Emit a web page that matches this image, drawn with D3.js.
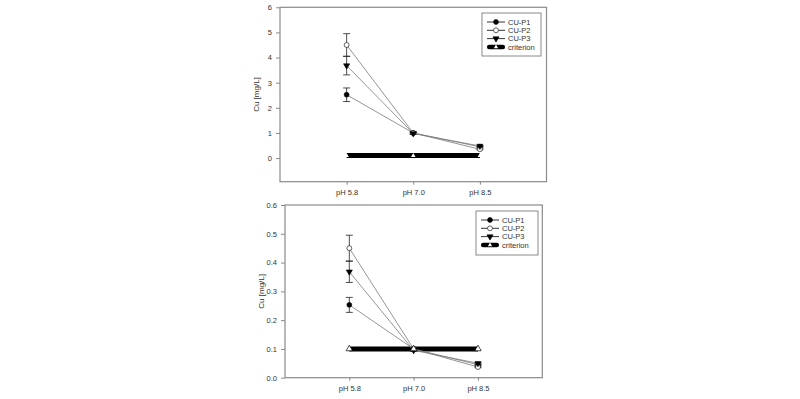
<!DOCTYPE html>
<html>
<head>
<meta charset="utf-8">
<script src="https://cdn.jsdelivr.net/npm/d3@7"></script>
<style>
  body { margin: 0; background: #fff; }
  svg { display: block; font-family: "Liberation Sans", Arial, sans-serif; }
</style>
</head>
<body>
<div id="chart"></div>
<script>
// categories
const categories = ['pH 5.8', 'pH 7.0', 'pH 8.5'];
const seriesNames = ['CU-P1', 'CU-P2', 'CU-P3', 'criterion'];

// upper panel values (mg/L)
const topP1 = [2.52, 1.0, 0.45];
const topP1Err = [0.27, 0.04, 0.02];
const topP2 = [4.5, 1.0, 0.35];
const topP2Err = [0.45, 0.04, 0.02];
const topP3 = [3.68, 0.98, 0.48];
const topP3Err = [0.37, 0.04, 0.02];
const topCriterion = [0.1, 0.1, 0.1];
const topYTicks = [0, 1, 2, 3, 4, 5, 6];

// lower panel values (mg/L)
const botP1 = [0.253, 0.1, 0.045];
const botP1Err = [0.026, 0.004, 0.002];
const botP2 = [0.45, 0.1, 0.037];
const botP2Err = [0.045, 0.004, 0.002];
const botP3 = [0.368, 0.095, 0.05];
const botP3Err = [0.037, 0.004, 0.002];
const botCriterion = [0.1, 0.1, 0.1];
const botYTicks = [0, 0.1, 0.2, 0.3, 0.4, 0.5, 0.6];

const W = 800, H = 399;
const frameColor = '#8a8a8a';
const lineColor = '#7a7a7a';
const textColor = '#333';

const svg = d3.select('#chart').append('svg')
    .attr('width', W)
    .attr('height', H);

svg.append('rect').attr('width', W).attr('height', H).attr('fill', '#fff');

function panel(opts) {
    const g = svg.append('g');
    const x = d3.scaleLinear().domain([0, 4]).range([opts.left, opts.right]);
    const y = d3.scaleLinear().domain(opts.yDomain).range([opts.bottom, opts.top]);

    // frame
    g.append('rect')
        .attr('x', opts.left).attr('y', opts.top)
        .attr('width', opts.right - opts.left)
        .attr('height', opts.bottom - opts.top)
        .attr('fill', 'none')
        .attr('stroke', frameColor)
        .attr('stroke-width', 1.2);

    // y axis
    const yAxis = g.append('g')
        .attr('transform', `translate(${opts.left},0)`)
        .call(d3.axisLeft(y).tickValues(opts.yTicks).tickSize(4).tickPadding(4).tickFormat(opts.fmt));
    yAxis.select('.domain').remove();
    yAxis.selectAll('line').attr('stroke', frameColor);
    yAxis.selectAll('text').attr('fill', textColor).style('font-size', '7.5px');

    // x axis
    const xAxis = g.append('g')
        .attr('transform', `translate(0,${opts.bottom})`)
        .call(d3.axisBottom(x).tickValues([1, 2, 3]).tickSize(3).tickPadding(5)
            .tickFormat(d => categories[d - 1]));
    xAxis.select('.domain').remove();
    xAxis.selectAll('line').attr('stroke', frameColor);
    xAxis.selectAll('text').attr('fill', textColor).style('font-size', '7.5px');

    // y label
    g.append('text')
        .attr('transform', `translate(${opts.left - 21},${(opts.top + opts.bottom) / 2}) rotate(-90)`)
        .attr('text-anchor', 'middle')
        .attr('fill', textColor)
        .style('font-size', '8px')
        .text('Cu [mg/L]');

    const line = d3.line().x((d, i) => x(i + 1)).y(d => y(d));

    // criterion
    g.append('path')
        .datum(opts.criterion)
        .attr('d', line)
        .attr('fill', 'none')
        .attr('stroke', '#000')
        .attr('stroke-width', 5);

    const series = [
        { vals: opts.p1, err: opts.p1Err, sym: 'circle', fill: '#000' },
        { vals: opts.p2, err: opts.p2Err, sym: 'circle', fill: '#fff' },
        { vals: opts.p3, err: opts.p3Err, sym: 'tridown', fill: '#000' }
    ];

    // error bars
    series.forEach(s => {
        const eb = g.append('g');
        s.vals.forEach((v, i) => {
            const cx = x(i + 1);
            const hi = y(v + s.err[i]), lo = y(v - s.err[i]);
            eb.append('line').attr('x1', cx).attr('x2', cx).attr('y1', hi).attr('y2', lo)
                .attr('stroke', '#222').attr('stroke-width', 0.8);
            [hi, lo].forEach(yy => eb.append('line')
                .attr('x1', cx - 3.5).attr('x2', cx + 3.5).attr('y1', yy).attr('y2', yy)
                .attr('stroke', '#222').attr('stroke-width', 0.8));
        });
    });

    // series lines
    series.forEach(s => {
        g.append('path').datum(s.vals).attr('d', line)
            .attr('fill', 'none').attr('stroke', lineColor).attr('stroke-width', 0.8);
    });

    // markers
    const circleSym = d3.symbol().type(d3.symbolCircle).size(opts.markSize);
    const triSym = d3.symbol().type(d3.symbolTriangle).size(opts.markSize * 0.85);
    series.forEach(s => {
        g.selectAll(null).data(s.vals).enter().append('path')
            .attr('d', s.sym === 'circle' ? circleSym : triSym)
            .attr('transform', (d, i) => `translate(${x(i + 1)},${y(d)})` + (s.sym === 'tridown' ? ' rotate(180)' : ''))
            .attr('fill', s.fill)
            .attr('stroke', '#000')
            .attr('stroke-width', 0.6);
    });

    // criterion markers
    g.selectAll(null).data(opts.criterion).enter().append('path')
        .attr('d', d3.symbol().type(d3.symbolTriangle).size(opts.critSize))
        .attr('transform', (d, i) => `translate(${x(i + 1)},${y(d)})`)
        .attr('fill', '#fff')
        .attr('stroke', '#000')
        .attr('stroke-width', opts.critStroke);

    // legend
    const lg = g.append('g');
    lg.append('rect')
        .attr('x', opts.legend.x).attr('y', opts.legend.y)
        .attr('width', opts.legend.w).attr('height', opts.legend.h)
        .attr('fill', '#fff').attr('stroke', frameColor).attr('stroke-width', 1);
    const rowY = i => opts.legend.y + 9 + i * 8.3;
    const sx0 = opts.legend.x + 5, sx1 = opts.legend.x + 23, sxm = (sx0 + sx1) / 2;
    seriesNames.forEach((name, i) => {
        const yy = rowY(i);
        const pad = i === 3 ? 2.2 : 0;
        lg.append('line').attr('x1', sx0 + pad).attr('x2', sx1 - pad).attr('y1', yy).attr('y2', yy)
            .attr('stroke', '#000').attr('stroke-width', i === 3 ? 4.5 : 0.8)
            .attr('stroke-linecap', i === 3 ? 'round' : 'butt');
        let sym, fill, rot = '';
        if (i === 0) { sym = circleSym; fill = '#000'; }
        else if (i === 1) { sym = circleSym; fill = '#fff'; }
        else if (i === 2) { sym = triSym; fill = '#000'; rot = ' rotate(180)'; }
        else { sym = d3.symbol().type(d3.symbolTriangle).size(8); fill = '#fff'; }
        lg.append('path').attr('d', sym)
            .attr('transform', `translate(${sxm},${yy})` + rot)
            .attr('fill', fill).attr('stroke', i === 3 ? 'none' : '#000').attr('stroke-width', 0.6);
        lg.append('text')
            .attr('x', sx1 + 3).attr('y', yy).attr('dy', '0.35em')
            .attr('fill', textColor)
            .style('font-size', '7.5px')
            .text(name);
    });
}

panel({
    left: 280, right: 546.5, top: 7.3, bottom: 181.7,
    yDomain: [-0.94, 6], yTicks: topYTicks, fmt: d3.format('d'),
    p1: topP1, p1Err: topP1Err, p2: topP2, p2Err: topP2Err, p3: topP3, p3Err: topP3Err,
    criterion: topCriterion, markSize: 19, critSize: 9, critStroke: 0,
    legend: { x: 482, y: 13, w: 59, h: 43 }
});

panel({
    left: 285, right: 542.3, top: 205, bottom: 377.7,
    yDomain: [0, 0.6], yTicks: botYTicks, fmt: d3.format('.1f'),
    p1: botP1, p1Err: botP1Err, p2: botP2, p2Err: botP2Err, p3: botP3, p3Err: botP3Err,
    criterion: botCriterion, markSize: 19, critSize: 18, critStroke: 0.7,
    legend: { x: 476, y: 211, w: 62, h: 44 }
});
</script>
</body>
</html>
